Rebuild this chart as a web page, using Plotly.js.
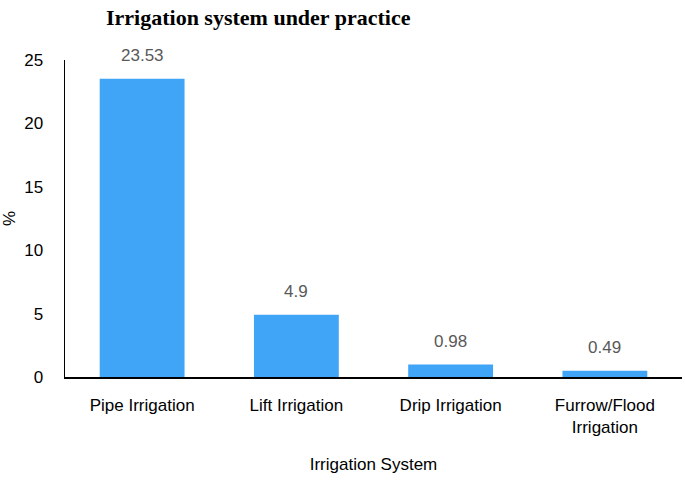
<!DOCTYPE html>
<html>
<head>
<meta charset="utf-8">
<script src="https://cdn.plot.ly/plotly-3.0.1.min.js"></script>
<style>
  html, body { margin: 0; padding: 0; background: white; }
  #chart { width: 685px; height: 481px; }
</style>
</head>
<body>
<div id="chart"></div>
<script>
// dados do gráfico
const categorias = ['Pipe Irrigation', 'Lift Irrigation', 'Drip Irrigation', 'Furrow/Flood<br>Irrigation'];
const valores = [23.53, 4.9, 0.98, 0.49];
const rotulos = ['23.53', '4.9', '0.98', '0.49'];
const ticksY = [0, 5, 10, 15, 20, 25];

const fonte = 'Liberation Sans Narrow, Liberation Sans, Arial, sans-serif';

const trace = {
    x: categorias,
    y: valores,
    type: 'bar',
    marker: { color: '#40a4f7' },
    hoverinfo: 'none'
};

// rótulos acima das barras
const anotacoes = categorias.map((c, i) => ({
    x: c,
    y: valores[i],
    text: rotulos[i],
    showarrow: false,
    yanchor: 'bottom',
    yshift: 12,
    font: { family: fonte, size: 17, color: '#595959' }
}));

const layout = {
    width: 685,
    height: 481,
    margin: { l: 65, r: 3, t: 60, b: 104 },
    paper_bgcolor: 'white',
    plot_bgcolor: 'white',
    bargap: 0.45,
    showlegend: false,
    annotations: anotacoes,
    title: {
        text: '<b>Irrigation system under practice</b>',
        font: { family: 'Liberation Serif, Times New Roman, serif', size: 22, color: '#000' },
        x: 0.377,
        xanchor: 'center',
        y: 0.963,
        yanchor: 'middle'
    },
    xaxis: {
        showline: true,
        linecolor: '#000',
        linewidth: 1.5,
        ticks: '',
        showgrid: false,
        ticklabelstandoff: 12,
        tickfont: { family: fonte, size: 17, color: '#000' },
        title: {
            text: 'Irrigation System',
            font: { family: fonte, size: 17, color: '#000' },
            standoff: 22
        }
    },
    yaxis: {
        range: [0, 25],
        tickvals: ticksY,
        showline: true,
        linecolor: '#000',
        linewidth: 1.5,
        ticks: '',
        showgrid: false,
        zeroline: false,
        ticklabelstandoff: 17,
        tickfont: { family: fonte, size: 17, color: '#000' },
        title: {
            text: '%',
            font: { family: fonte, size: 17, color: '#000' },
            standoff: 12
        }
    }
};

Plotly.newPlot('chart', [trace], layout, { displayModeBar: false, staticPlot: true });
</script>
</body>
</html>
